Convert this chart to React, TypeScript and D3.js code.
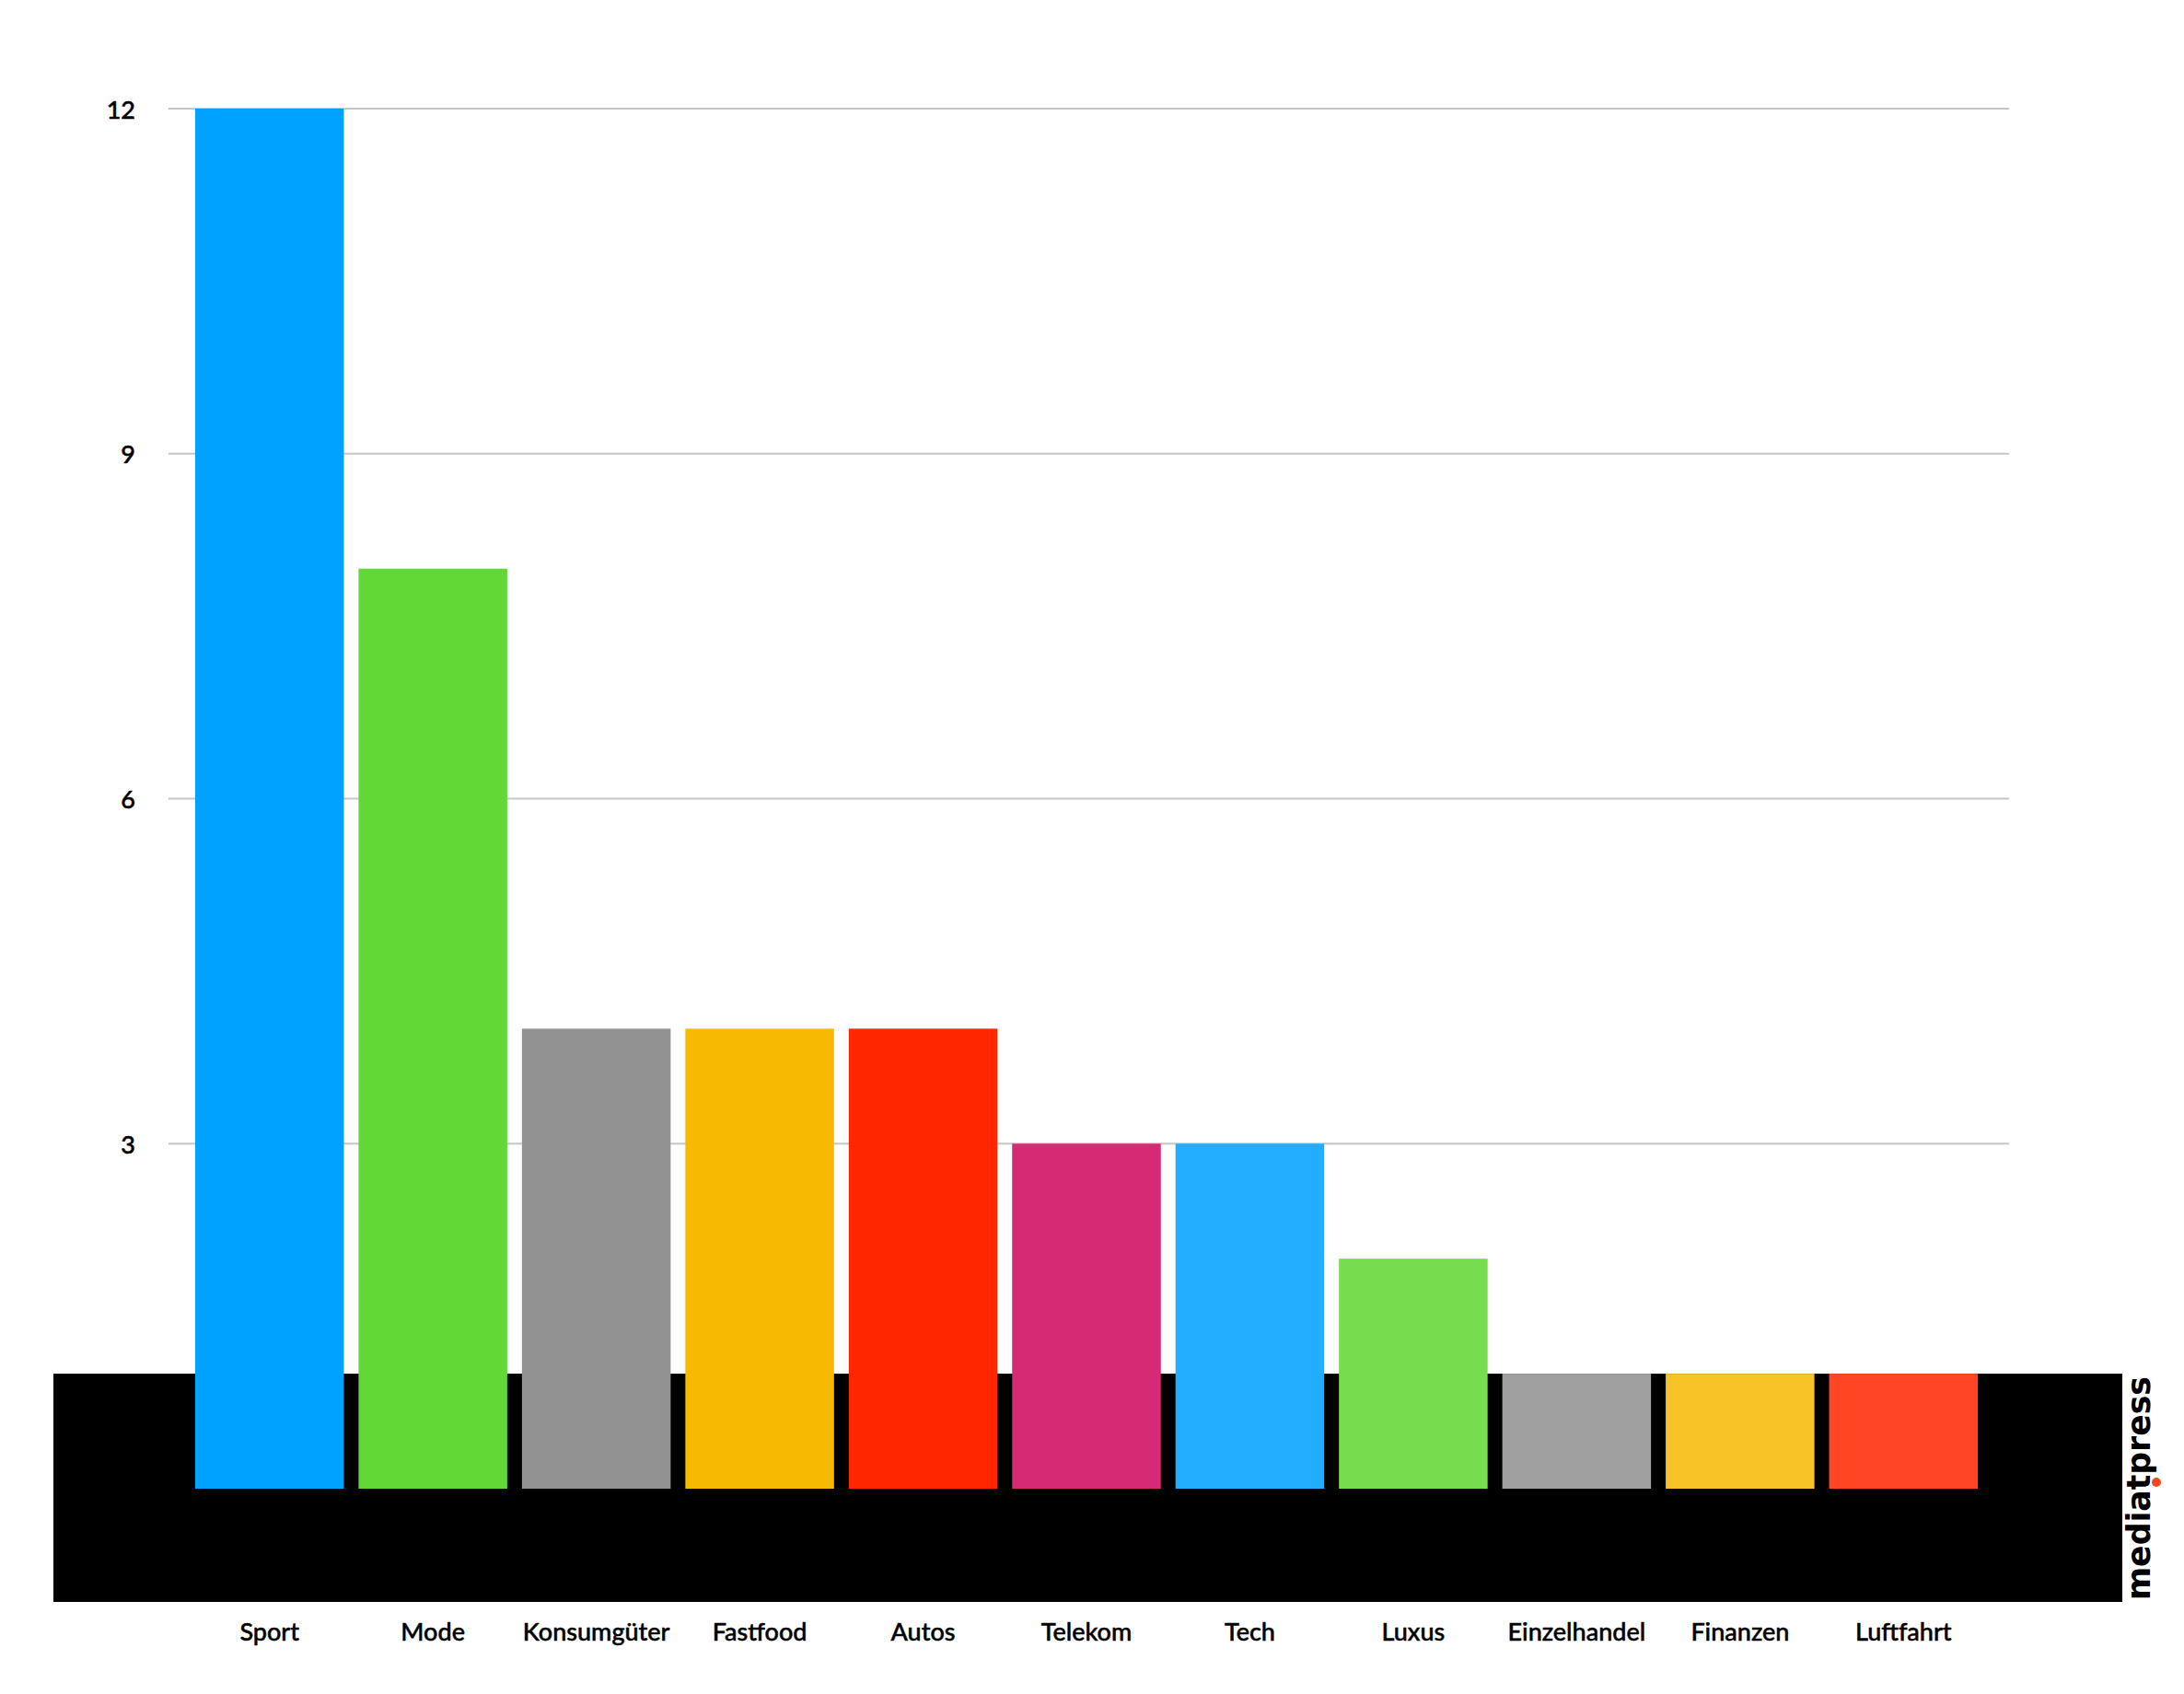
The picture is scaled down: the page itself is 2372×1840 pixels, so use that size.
import React from "react";
import * as d3 from "d3";

const categories = ["Sport", "Mode", "Konsumgüter", "Fastfood", "Autos", "Telekom", "Tech", "Luxus", "Einzelhandel", "Finanzen", "Luftfahrt"];
const values = [12, 8, 4, 4, 4, 3, 3, 2, 1, 1, 1];
const colors = ["#00A2FF", "#61D836", "#929292", "#F8BA00", "#FF2600", "#D72A74", "#22ADFF", "#77DD4E", "#A0A0A0", "#F8C326", "#FF4524"];
const yTicks = [3, 6, 9, 12];

const W = 2372;
const H = 1840;

export default function App() {
  const x = d3.scaleBand<string>().domain(categories).range([180, 2180]).paddingInner(0.09).paddingOuter(0.18);
  const y = d3.scaleLinear().domain([0, 12]).range([1617, 118]);
  const font = "Lato, 'Noto Sans', sans-serif";
  return (
    <svg width={W} height={H} style={{ position: "absolute", left: 0, top: 0, background: "#fff" }}>
      <rect x={0} y={0} width={W} height={H} fill="#fff" />
      {yTicks.map((t) => (
        <g key={t}>
          <line x1={183} x2={2182} y1={y(t)} y2={y(t)} stroke="#c6c6c6" strokeWidth={2} />
          <text x={147} y={y(t)} textAnchor="end" dominantBaseline="central" fontFamily={font} fontSize={27} fontWeight={500} fill="#000" stroke="#000" strokeWidth={0.5}>
            {t}
          </text>
        </g>
      ))}
      <rect x={58} y={y(1)} width={2305 - 58} height={1740 - y(1)} fill="#000" />
      {categories.map((c, i) => (
        <rect key={c} x={x(c)} y={y(values[i])} width={x.bandwidth()} height={y(0) - y(values[i])} fill={colors[i]} />
      ))}
      {categories.map((c) => (
        <text key={c} x={(x(c) as number) + x.bandwidth() / 2} y={1782} textAnchor="middle" fontFamily={font} fontSize={27} fontWeight={500} fill="#000" stroke="#000" strokeWidth={0.5}>
          {c}
        </text>
      ))}
      <g transform="translate(2335,1738) rotate(-90)">
        <text x={0} y={0} fontFamily="'DejaVu Sans', sans-serif" fontWeight={700} fontSize={36} textLength={243} lengthAdjust="spacingAndGlyphs" fill="#000">
          mediatpress
        </text>
      </g>
      <circle cx={2342} cy={1610} r={5} fill="#F04A1E" />
    </svg>
  );
}
